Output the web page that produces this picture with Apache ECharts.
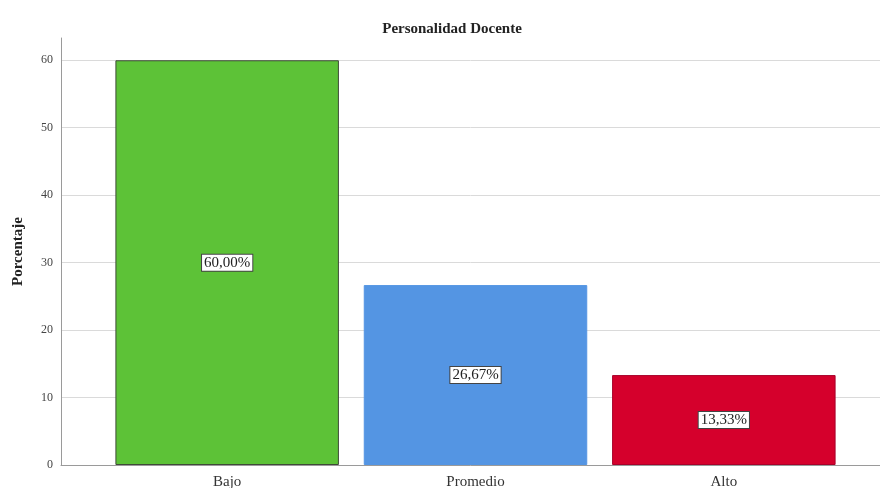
<!DOCTYPE html>
<html>
<head>
<meta charset="utf-8">
<script src="https://cdn.jsdelivr.net/npm/echarts@6/dist/echarts.min.js"></script>
<style>
  html, body { margin: 0; padding: 0; background: #ffffff; }
  #chart { width: 880px; height: 488px; }
</style>
</head>
<body>
<div id="chart"></div>
<script>
// Nivel de personalidad docente (porcentaje)
const categories = ['Bajo', 'Promedio', 'Alto'];
const percentages = [60.00, 26.67, 13.33];
const barColors = ['#5dc237', '#5495e3', '#d5002c'];
const barBorders = ['#3f4a38', '#5495e3', '#a8002a'];
const yTicks = [0, 10, 20, 30, 40, 50, 60];

const serif = '"Liberation Serif", "Times New Roman", serif';
const yMax = 63.3;
const gridTop = 38, gridBottom = 23;

const chart = echarts.init(document.getElementById('chart'));

// one colour per split line; the last (at the axis top) stays hidden
const splitColors = yTicks.map(() => '#dadada').concat(['rgba(0,0,0,0)']);

chart.setOption({
  backgroundColor: '#ffffff',
  animation: false,
  title: {
    text: 'Personalidad Docente',
    left: 447, top: 17, textAlign: 'center',
    textStyle: { fontFamily: serif, fontWeight: 'bold', fontSize: 15, color: '#222' }
  },
  grid: [
    // frame: value axis, gridlines and baseline
    { left: 61, right: 0, top: gridTop, bottom: gridBottom, outerBoundsMode: 'none', containLabel: false },
    // bars
    { left: 103, right: 32, top: gridTop, bottom: gridBottom, outerBoundsMode: 'none', containLabel: false }
  ],
  xAxis: [
    {
      gridIndex: 0, type: 'value', min: 0, max: 1,
      axisLine: { show: true, lineStyle: { color: '#9a9a9a', width: 1 } },
      axisTick: { show: false }, axisLabel: { show: false }, splitLine: { show: false }
    },
    {
      gridIndex: 1, type: 'category', data: categories,
      axisLine: { show: false }, axisTick: { show: false },
      axisLabel: { fontFamily: serif, fontSize: 15, color: '#333', margin: 10 }
    }
  ],
  yAxis: [
    {
      gridIndex: 0, type: 'value', min: 0, max: yMax, interval: 10,
      name: 'Porcentaje', nameLocation: 'middle', nameGap: 35, nameRotate: 90,
      nameTextStyle: { fontFamily: serif, fontWeight: 'bold', fontSize: 15, color: '#222' },
      axisLine: { show: true, lineStyle: { color: '#9a9a9a', width: 1 } },
      axisTick: { show: false },
      axisLabel: {
        fontFamily: serif, fontSize: 12, color: '#444', margin: 8,
        formatter: v => (yTicks.indexOf(v) >= 0 ? String(v) : '')
      },
      splitLine: { show: true, lineStyle: { color: splitColors, width: 1 } }
    },
    {
      gridIndex: 1, type: 'value', min: 0, max: yMax, interval: 10,
      show: false, splitLine: { show: false }
    }
  ],
  series: [{
    type: 'bar',
    xAxisIndex: 1, yAxisIndex: 1,
    barWidth: '90%',
    data: percentages.map((v, i) => ({
      value: v,
      itemStyle: { color: barColors[i], borderColor: barBorders[i], borderWidth: 1 }
    })),
    label: {
      show: true, position: 'inside',
      formatter: p => p.value.toFixed(2).replace('.', ',') + '%',
      fontFamily: serif, fontSize: 15, color: '#222',
      backgroundColor: '#ffffff', borderColor: '#444', borderWidth: 1,
      padding: [1, 2, 0, 2]
    }
  }]
});
</script>
</body>
</html>
